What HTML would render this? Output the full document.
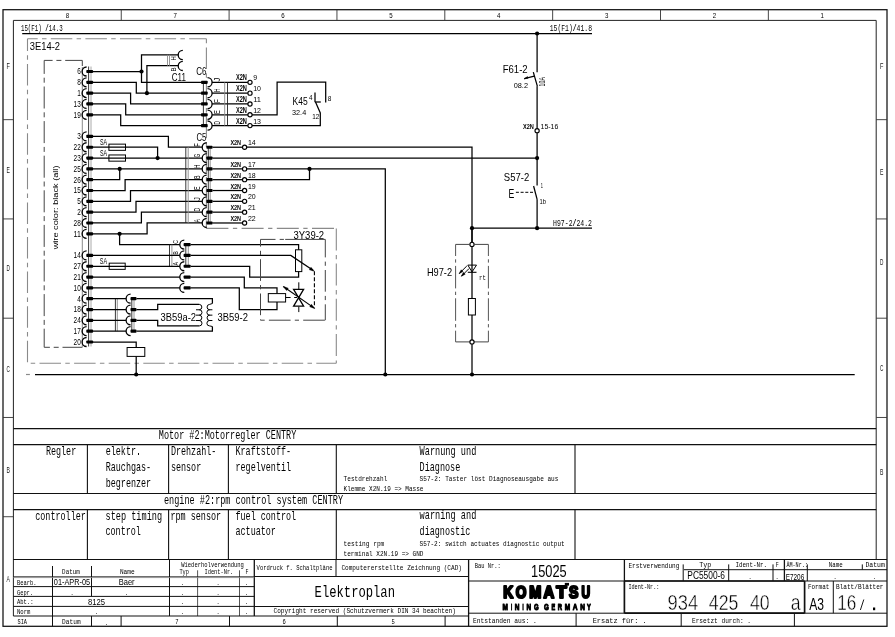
<!DOCTYPE html>
<html><head><meta charset="utf-8"><title>Elektroplan</title>
<style>
html,body{margin:0;padding:0;background:#fff;overflow:hidden}
svg{display:block;will-change:transform}
</style></head>
<body>
<svg width="895" height="637" viewBox="0 0 895 637">
<rect x="0" y="0" width="895" height="637" fill="#fff"/>
<rect x="3" y="9.7" width="884" height="616.6" fill="none" stroke="#111" stroke-width="1.25"/>
<line x1="13.4" y1="20.4" x2="876.2" y2="20.4" stroke="#222" stroke-width="1"/>
<line x1="13.4" y1="20.4" x2="13.4" y2="616" stroke="#222" stroke-width="1"/>
<line x1="876.2" y1="20.4" x2="876.2" y2="559.5" stroke="#222" stroke-width="1"/>
<line x1="121.25" y1="9.7" x2="121.25" y2="20.4" stroke="#333" stroke-width="0.9"/>
<line x1="229.1" y1="9.7" x2="229.1" y2="20.4" stroke="#333" stroke-width="0.9"/>
<line x1="336.95" y1="9.7" x2="336.95" y2="20.4" stroke="#333" stroke-width="0.9"/>
<line x1="444.8" y1="9.7" x2="444.8" y2="20.4" stroke="#333" stroke-width="0.9"/>
<line x1="552.65" y1="9.7" x2="552.65" y2="20.4" stroke="#333" stroke-width="0.9"/>
<line x1="660.5" y1="9.7" x2="660.5" y2="20.4" stroke="#333" stroke-width="0.9"/>
<line x1="768.35" y1="9.7" x2="768.35" y2="20.4" stroke="#333" stroke-width="0.9"/>
<text x="67.33" y="18.3" font-size="7.2" fill="#000" textLength="3.4" lengthAdjust="spacingAndGlyphs" text-anchor="middle" style="font-family:'Liberation Sans'">8</text>
<text x="175.18" y="18.3" font-size="7.2" fill="#000" textLength="3.4" lengthAdjust="spacingAndGlyphs" text-anchor="middle" style="font-family:'Liberation Sans'">7</text>
<text x="283.02" y="18.3" font-size="7.2" fill="#000" textLength="3.4" lengthAdjust="spacingAndGlyphs" text-anchor="middle" style="font-family:'Liberation Sans'">6</text>
<text x="390.88" y="18.3" font-size="7.2" fill="#000" textLength="3.4" lengthAdjust="spacingAndGlyphs" text-anchor="middle" style="font-family:'Liberation Sans'">5</text>
<text x="498.73" y="18.3" font-size="7.2" fill="#000" textLength="3.4" lengthAdjust="spacingAndGlyphs" text-anchor="middle" style="font-family:'Liberation Sans'">4</text>
<text x="606.58" y="18.3" font-size="7.2" fill="#000" textLength="3.4" lengthAdjust="spacingAndGlyphs" text-anchor="middle" style="font-family:'Liberation Sans'">3</text>
<text x="714.43" y="18.3" font-size="7.2" fill="#000" textLength="3.4" lengthAdjust="spacingAndGlyphs" text-anchor="middle" style="font-family:'Liberation Sans'">2</text>
<text x="822.28" y="18.3" font-size="7.2" fill="#000" textLength="3.4" lengthAdjust="spacingAndGlyphs" text-anchor="middle" style="font-family:'Liberation Sans'">1</text>
<line x1="3" y1="119.67" x2="13.4" y2="119.67" stroke="#333" stroke-width="0.9"/>
<line x1="876.2" y1="119.67" x2="887" y2="119.67" stroke="#333" stroke-width="0.9"/>
<line x1="3" y1="218.93" x2="13.4" y2="218.93" stroke="#333" stroke-width="0.9"/>
<line x1="876.2" y1="218.93" x2="887" y2="218.93" stroke="#333" stroke-width="0.9"/>
<line x1="3" y1="318.2" x2="13.4" y2="318.2" stroke="#333" stroke-width="0.9"/>
<line x1="876.2" y1="318.2" x2="887" y2="318.2" stroke="#333" stroke-width="0.9"/>
<line x1="3" y1="417.47" x2="13.4" y2="417.47" stroke="#333" stroke-width="0.9"/>
<line x1="876.2" y1="417.47" x2="887" y2="417.47" stroke="#333" stroke-width="0.9"/>
<line x1="3" y1="516.73" x2="13.4" y2="516.73" stroke="#333" stroke-width="0.9"/>
<text x="8.3" y="69.1" font-size="8.2" fill="#222" textLength="3.4" lengthAdjust="spacingAndGlyphs" text-anchor="middle" style="font-family:'Liberation Sans'">F</text>
<text x="8.3" y="172.8" font-size="8.2" fill="#222" textLength="3.4" lengthAdjust="spacingAndGlyphs" text-anchor="middle" style="font-family:'Liberation Sans'">E</text>
<text x="8.3" y="271.2" font-size="8.2" fill="#222" textLength="3.4" lengthAdjust="spacingAndGlyphs" text-anchor="middle" style="font-family:'Liberation Sans'">D</text>
<text x="8.3" y="372.3" font-size="8.2" fill="#222" textLength="3.4" lengthAdjust="spacingAndGlyphs" text-anchor="middle" style="font-family:'Liberation Sans'">C</text>
<text x="8.3" y="473.3" font-size="8.2" fill="#222" textLength="3.4" lengthAdjust="spacingAndGlyphs" text-anchor="middle" style="font-family:'Liberation Sans'">B</text>
<text x="8.3" y="582.2" font-size="8.2" fill="#222" textLength="3.4" lengthAdjust="spacingAndGlyphs" text-anchor="middle" style="font-family:'Liberation Sans'">A</text>
<text x="881.6" y="68.7" font-size="8.2" fill="#222" textLength="3.4" lengthAdjust="spacingAndGlyphs" text-anchor="middle" style="font-family:'Liberation Sans'">F</text>
<text x="881.6" y="175.3" font-size="8.2" fill="#222" textLength="3.4" lengthAdjust="spacingAndGlyphs" text-anchor="middle" style="font-family:'Liberation Sans'">E</text>
<text x="881.6" y="264.9" font-size="8.2" fill="#222" textLength="3.4" lengthAdjust="spacingAndGlyphs" text-anchor="middle" style="font-family:'Liberation Sans'">D</text>
<text x="881.6" y="370.6" font-size="8.2" fill="#222" textLength="3.4" lengthAdjust="spacingAndGlyphs" text-anchor="middle" style="font-family:'Liberation Sans'">C</text>
<text x="881.6" y="474.7" font-size="8.2" fill="#222" textLength="3.4" lengthAdjust="spacingAndGlyphs" text-anchor="middle" style="font-family:'Liberation Sans'">B</text>
<text x="20.9" y="30.6" font-size="8.2" fill="#000" textLength="41.8" lengthAdjust="spacingAndGlyphs" style="font-family:'Liberation Mono'">15(F1) <tspan font-weight="bold">/</tspan>14.3</text>
<text x="549.7" y="30.6" font-size="8.2" fill="#000" textLength="42.3" lengthAdjust="spacingAndGlyphs" style="font-family:'Liberation Mono'">15(F1)<tspan font-weight="bold">/</tspan>41.8</text>
<text x="553.1" y="225.9" font-size="8.2" fill="#000" textLength="38.9" lengthAdjust="spacingAndGlyphs" style="font-family:'Liberation Mono'">H97-2<tspan font-weight="bold">/</tspan>24.2</text>
<line x1="22.2" y1="33.5" x2="592" y2="33.5" stroke="#000" stroke-width="1.25"/>
<circle cx="537.1" cy="33.5" r="2.1" fill="#000"/>
<line x1="27.5" y1="38.7" x2="206.4" y2="38.7" stroke="#8a8a8a" stroke-width="1.1" stroke-dasharray="21.5 4.3 4.5 4.3" stroke-dashoffset="11.3"/>
<line x1="27.5" y1="38.7" x2="27.5" y2="363.3" stroke="#8a8a8a" stroke-width="1.1" stroke-dasharray="21.5 4.3 4.5 4.3" stroke-dashoffset="9.3"/>
<line x1="27.5" y1="363.3" x2="336.3" y2="363.3" stroke="#8a8a8a" stroke-width="1.1" stroke-dasharray="21.5 4.3 4.5 4.3" stroke-dashoffset="22.6"/>
<line x1="206.4" y1="38.7" x2="206.4" y2="228.5" stroke="#8a8a8a" stroke-width="1.1" stroke-dasharray="21.5 4.3 4.5 4.3" stroke-dashoffset="25.8"/>
<line x1="206.4" y1="228.4" x2="336.3" y2="228.4" stroke="#8a8a8a" stroke-width="1.1" stroke-dasharray="22 4.5 4.3 4.4" stroke-dashoffset="0"/>
<line x1="336.3" y1="228.4" x2="336.3" y2="363.3" stroke="#8a8a8a" stroke-width="1.1" stroke-dasharray="22 4.5 4.3 4.4" stroke-dashoffset="0"/>
<text x="29.8" y="49.6" font-size="11.4" fill="#000" textLength="30.2" lengthAdjust="spacingAndGlyphs" style="font-family:'Liberation Sans'">3E14-2</text>
<line x1="44.2" y1="60.4" x2="82.3" y2="60.4" stroke="#444" stroke-width="1" stroke-dasharray="22 3.8 5 3.8" stroke-dashoffset="13.6"/>
<line x1="44.2" y1="60.4" x2="44.2" y2="347.3" stroke="#444" stroke-width="1" stroke-dasharray="22 3.8 5 3.8" stroke-dashoffset="8.5"/>
<line x1="44.2" y1="347.3" x2="82.3" y2="347.3" stroke="#444" stroke-width="1" stroke-dasharray="22 3.8 5 3.8" stroke-dashoffset="16.3"/>
<line x1="82.3" y1="60.4" x2="82.3" y2="66" stroke="#444" stroke-width="1"/>
<line x1="82.3" y1="67" x2="82.3" y2="347.4" stroke="#8a8a8a" stroke-width="1"/>
<text x="58.2" y="249.3" font-size="7.4" fill="#000" textLength="83.8" lengthAdjust="spacingAndGlyphs" style="font-family:'Liberation Sans'" transform="rotate(-90 58.2 249.3)">wire color: black (all)</text>
<line x1="88.6" y1="66.5" x2="88.6" y2="346.5" stroke="#222" stroke-width="0.9"/>
<line x1="91" y1="66.5" x2="91" y2="346.5" stroke="#aaa" stroke-width="1"/>
<path d="M86.6 67 A4.5 4.5 0 0 0 86.6 76" fill="none" stroke="#000" stroke-width="1.3"/>
<rect x="86.3" y="69.9" width="6.8" height="3.2" fill="#000" rx="0.8"/>
<text x="80.8" y="74.35" font-size="8.2" fill="#000" textLength="3.6" lengthAdjust="spacingAndGlyphs" text-anchor="end" style="font-family:'Liberation Sans'">6</text>
<path d="M86.6 77.82 A4.5 4.5 0 0 0 86.6 86.82" fill="none" stroke="#000" stroke-width="1.3"/>
<rect x="86.3" y="80.72" width="6.8" height="3.2" fill="#000" rx="0.8"/>
<text x="80.8" y="85.17" font-size="8.2" fill="#000" textLength="3.6" lengthAdjust="spacingAndGlyphs" text-anchor="end" style="font-family:'Liberation Sans'">8</text>
<path d="M86.6 88.64 A4.5 4.5 0 0 0 86.6 97.64" fill="none" stroke="#000" stroke-width="1.3"/>
<rect x="86.3" y="91.54" width="6.8" height="3.2" fill="#000" rx="0.8"/>
<text x="80.8" y="95.99" font-size="8.2" fill="#000" textLength="3.6" lengthAdjust="spacingAndGlyphs" text-anchor="end" style="font-family:'Liberation Sans'">1</text>
<path d="M86.6 99.46 A4.5 4.5 0 0 0 86.6 108.46" fill="none" stroke="#000" stroke-width="1.3"/>
<rect x="86.3" y="102.36" width="6.8" height="3.2" fill="#000" rx="0.8"/>
<text x="80.8" y="106.81" font-size="8.2" fill="#000" textLength="7.2" lengthAdjust="spacingAndGlyphs" text-anchor="end" style="font-family:'Liberation Sans'">13</text>
<path d="M86.6 110.28 A4.5 4.5 0 0 0 86.6 119.28" fill="none" stroke="#000" stroke-width="1.3"/>
<rect x="86.3" y="113.18" width="6.8" height="3.2" fill="#000" rx="0.8"/>
<text x="80.8" y="117.63" font-size="8.2" fill="#000" textLength="7.2" lengthAdjust="spacingAndGlyphs" text-anchor="end" style="font-family:'Liberation Sans'">19</text>
<path d="M86.6 131.92 A4.5 4.5 0 0 0 86.6 140.92" fill="none" stroke="#000" stroke-width="1.3"/>
<rect x="86.3" y="134.82" width="6.8" height="3.2" fill="#000" rx="0.8"/>
<text x="80.8" y="139.27" font-size="8.2" fill="#000" textLength="3.6" lengthAdjust="spacingAndGlyphs" text-anchor="end" style="font-family:'Liberation Sans'">3</text>
<path d="M86.6 142.74 A4.5 4.5 0 0 0 86.6 151.74" fill="none" stroke="#000" stroke-width="1.3"/>
<rect x="86.3" y="145.64" width="6.8" height="3.2" fill="#000" rx="0.8"/>
<text x="80.8" y="150.09" font-size="8.2" fill="#000" textLength="7.2" lengthAdjust="spacingAndGlyphs" text-anchor="end" style="font-family:'Liberation Sans'">22</text>
<path d="M86.6 153.56 A4.5 4.5 0 0 0 86.6 162.56" fill="none" stroke="#000" stroke-width="1.3"/>
<rect x="86.3" y="156.46" width="6.8" height="3.2" fill="#000" rx="0.8"/>
<text x="80.8" y="160.91" font-size="8.2" fill="#000" textLength="7.2" lengthAdjust="spacingAndGlyphs" text-anchor="end" style="font-family:'Liberation Sans'">23</text>
<path d="M86.6 164.38 A4.5 4.5 0 0 0 86.6 173.38" fill="none" stroke="#000" stroke-width="1.3"/>
<rect x="86.3" y="167.28" width="6.8" height="3.2" fill="#000" rx="0.8"/>
<text x="80.8" y="171.73" font-size="8.2" fill="#000" textLength="7.2" lengthAdjust="spacingAndGlyphs" text-anchor="end" style="font-family:'Liberation Sans'">25</text>
<path d="M86.6 175.2 A4.5 4.5 0 0 0 86.6 184.2" fill="none" stroke="#000" stroke-width="1.3"/>
<rect x="86.3" y="178.1" width="6.8" height="3.2" fill="#000" rx="0.8"/>
<text x="80.8" y="182.55" font-size="8.2" fill="#000" textLength="7.2" lengthAdjust="spacingAndGlyphs" text-anchor="end" style="font-family:'Liberation Sans'">26</text>
<path d="M86.6 186.02 A4.5 4.5 0 0 0 86.6 195.02" fill="none" stroke="#000" stroke-width="1.3"/>
<rect x="86.3" y="188.92" width="6.8" height="3.2" fill="#000" rx="0.8"/>
<text x="80.8" y="193.37" font-size="8.2" fill="#000" textLength="7.2" lengthAdjust="spacingAndGlyphs" text-anchor="end" style="font-family:'Liberation Sans'">15</text>
<path d="M86.6 196.84 A4.5 4.5 0 0 0 86.6 205.84" fill="none" stroke="#000" stroke-width="1.3"/>
<rect x="86.3" y="199.74" width="6.8" height="3.2" fill="#000" rx="0.8"/>
<text x="80.8" y="204.19" font-size="8.2" fill="#000" textLength="3.6" lengthAdjust="spacingAndGlyphs" text-anchor="end" style="font-family:'Liberation Sans'">5</text>
<path d="M86.6 207.66 A4.5 4.5 0 0 0 86.6 216.66" fill="none" stroke="#000" stroke-width="1.3"/>
<rect x="86.3" y="210.56" width="6.8" height="3.2" fill="#000" rx="0.8"/>
<text x="80.8" y="215.01" font-size="8.2" fill="#000" textLength="3.6" lengthAdjust="spacingAndGlyphs" text-anchor="end" style="font-family:'Liberation Sans'">2</text>
<path d="M86.6 218.48 A4.5 4.5 0 0 0 86.6 227.48" fill="none" stroke="#000" stroke-width="1.3"/>
<rect x="86.3" y="221.38" width="6.8" height="3.2" fill="#000" rx="0.8"/>
<text x="80.8" y="225.83" font-size="8.2" fill="#000" textLength="7.2" lengthAdjust="spacingAndGlyphs" text-anchor="end" style="font-family:'Liberation Sans'">28</text>
<path d="M86.6 229.3 A4.5 4.5 0 0 0 86.6 238.3" fill="none" stroke="#000" stroke-width="1.3"/>
<rect x="86.3" y="232.2" width="6.8" height="3.2" fill="#000" rx="0.8"/>
<text x="80.8" y="236.65" font-size="8.2" fill="#000" textLength="7.2" lengthAdjust="spacingAndGlyphs" text-anchor="end" style="font-family:'Liberation Sans'">11</text>
<path d="M86.6 250.94 A4.5 4.5 0 0 0 86.6 259.94" fill="none" stroke="#000" stroke-width="1.3"/>
<rect x="86.3" y="253.84" width="6.8" height="3.2" fill="#000" rx="0.8"/>
<text x="80.8" y="258.29" font-size="8.2" fill="#000" textLength="7.2" lengthAdjust="spacingAndGlyphs" text-anchor="end" style="font-family:'Liberation Sans'">14</text>
<path d="M86.6 261.76 A4.5 4.5 0 0 0 86.6 270.76" fill="none" stroke="#000" stroke-width="1.3"/>
<rect x="86.3" y="264.66" width="6.8" height="3.2" fill="#000" rx="0.8"/>
<text x="80.8" y="269.11" font-size="8.2" fill="#000" textLength="7.2" lengthAdjust="spacingAndGlyphs" text-anchor="end" style="font-family:'Liberation Sans'">27</text>
<path d="M86.6 272.58 A4.5 4.5 0 0 0 86.6 281.58" fill="none" stroke="#000" stroke-width="1.3"/>
<rect x="86.3" y="275.48" width="6.8" height="3.2" fill="#000" rx="0.8"/>
<text x="80.8" y="279.93" font-size="8.2" fill="#000" textLength="7.2" lengthAdjust="spacingAndGlyphs" text-anchor="end" style="font-family:'Liberation Sans'">21</text>
<path d="M86.6 283.4 A4.5 4.5 0 0 0 86.6 292.4" fill="none" stroke="#000" stroke-width="1.3"/>
<rect x="86.3" y="286.3" width="6.8" height="3.2" fill="#000" rx="0.8"/>
<text x="80.8" y="290.75" font-size="8.2" fill="#000" textLength="7.2" lengthAdjust="spacingAndGlyphs" text-anchor="end" style="font-family:'Liberation Sans'">10</text>
<path d="M86.6 294.22 A4.5 4.5 0 0 0 86.6 303.22" fill="none" stroke="#000" stroke-width="1.3"/>
<rect x="86.3" y="297.12" width="6.8" height="3.2" fill="#000" rx="0.8"/>
<text x="80.8" y="301.57" font-size="8.2" fill="#000" textLength="3.6" lengthAdjust="spacingAndGlyphs" text-anchor="end" style="font-family:'Liberation Sans'">4</text>
<path d="M86.6 305.04 A4.5 4.5 0 0 0 86.6 314.04" fill="none" stroke="#000" stroke-width="1.3"/>
<rect x="86.3" y="307.94" width="6.8" height="3.2" fill="#000" rx="0.8"/>
<text x="80.8" y="312.39" font-size="8.2" fill="#000" textLength="7.2" lengthAdjust="spacingAndGlyphs" text-anchor="end" style="font-family:'Liberation Sans'">18</text>
<path d="M86.6 315.86 A4.5 4.5 0 0 0 86.6 324.86" fill="none" stroke="#000" stroke-width="1.3"/>
<rect x="86.3" y="318.76" width="6.8" height="3.2" fill="#000" rx="0.8"/>
<text x="80.8" y="323.21" font-size="8.2" fill="#000" textLength="7.2" lengthAdjust="spacingAndGlyphs" text-anchor="end" style="font-family:'Liberation Sans'">24</text>
<path d="M86.6 326.68 A4.5 4.5 0 0 0 86.6 335.68" fill="none" stroke="#000" stroke-width="1.3"/>
<rect x="86.3" y="329.58" width="6.8" height="3.2" fill="#000" rx="0.8"/>
<text x="80.8" y="334.03" font-size="8.2" fill="#000" textLength="7.2" lengthAdjust="spacingAndGlyphs" text-anchor="end" style="font-family:'Liberation Sans'">17</text>
<path d="M86.6 337.5 A4.5 4.5 0 0 0 86.6 346.5" fill="none" stroke="#000" stroke-width="1.3"/>
<rect x="86.3" y="340.4" width="6.8" height="3.2" fill="#000" rx="0.8"/>
<text x="80.8" y="344.85" font-size="8.2" fill="#000" textLength="7.2" lengthAdjust="spacingAndGlyphs" text-anchor="end" style="font-family:'Liberation Sans'">20</text>
<line x1="93" y1="71.5" x2="141.5" y2="71.5" stroke="#000" stroke-width="1.25"/>
<polyline points="178,54.8 141.5,54.8 141.5,82.32 201,82.32" fill="none" stroke="#000" stroke-width="1.25" stroke-linejoin="miter"/>
<circle cx="141.5" cy="71.5" r="2.1" fill="#000"/>
<polyline points="93,82.32 136.3,82.32 136.3,93.14 201,93.14" fill="none" stroke="#000" stroke-width="1.25" stroke-linejoin="miter"/>
<polyline points="146.9,93.14 146.9,65.7 178,65.7" fill="none" stroke="#000" stroke-width="1.25" stroke-linejoin="miter"/>
<circle cx="146.9" cy="93.14" r="2.1" fill="#000"/>
<polyline points="93,93.14 130.6,93.14 130.6,103.96 201,103.96" fill="none" stroke="#000" stroke-width="1.25" stroke-linejoin="miter"/>
<polyline points="93,103.96 125.7,103.96 125.7,114.78 201,114.78" fill="none" stroke="#000" stroke-width="1.25" stroke-linejoin="miter"/>
<polyline points="93,114.78 120.7,114.78 120.7,125.6 201,125.6" fill="none" stroke="#000" stroke-width="1.25" stroke-linejoin="miter"/>
<line x1="167.5" y1="54.8" x2="167.5" y2="65.7" stroke="#8a8a8a" stroke-width="0.9"/>
<line x1="169.5" y1="54.8" x2="169.5" y2="65.7" stroke="#8a8a8a" stroke-width="0.9"/>
<path d="M182.8 50.4 A4.6 4.6 0 0 0 182.8 59.6" fill="none" stroke="#000" stroke-width="1.3"/>
<path d="M182.8 61.3 A4.6 4.6 0 0 0 182.8 70.5" fill="none" stroke="#000" stroke-width="1.3"/>
<text x="176" y="58.3" font-size="6.6" fill="#000" textLength="4.2" lengthAdjust="spacingAndGlyphs" text-anchor="middle" style="font-family:'Liberation Sans'" transform="rotate(-90 176 58.3)">H</text>
<text x="176" y="69.3" font-size="6.6" fill="#000" textLength="4.2" lengthAdjust="spacingAndGlyphs" text-anchor="middle" style="font-family:'Liberation Sans'" transform="rotate(-90 176 69.3)">B</text>
<text x="171.8" y="81" font-size="11.4" fill="#000" textLength="14.1" lengthAdjust="spacingAndGlyphs" style="font-family:'Liberation Sans'">C11</text>
<text x="196.2" y="75.3" font-size="11.4" fill="#000" textLength="10.2" lengthAdjust="spacingAndGlyphs" style="font-family:'Liberation Sans'">C6</text>
<line x1="203.4" y1="81.32" x2="203.4" y2="126.6" stroke="#222" stroke-width="0.9"/>
<rect x="201" y="80.72" width="6.7" height="3.2" fill="#000" rx="0.8"/>
<path d="M207.5 77.72 A4.6 4.6 0 0 1 207.5 86.92" fill="none" stroke="#000" stroke-width="1.3"/>
<text x="219.8" y="79.52" font-size="8.8" fill="#000" textLength="3.8" lengthAdjust="spacingAndGlyphs" text-anchor="middle" style="font-family:'Liberation Sans'" transform="rotate(-90 219.8 79.52)">J</text>
<line x1="212" y1="82.32" x2="248" y2="82.32" stroke="#000" stroke-width="1.25"/>
<rect x="201" y="91.54" width="6.7" height="3.2" fill="#000" rx="0.8"/>
<path d="M207.5 88.54 A4.6 4.6 0 0 1 207.5 97.74" fill="none" stroke="#000" stroke-width="1.3"/>
<text x="219.8" y="90.34" font-size="8.8" fill="#000" textLength="3.8" lengthAdjust="spacingAndGlyphs" text-anchor="middle" style="font-family:'Liberation Sans'" transform="rotate(-90 219.8 90.34)">H</text>
<line x1="212" y1="93.14" x2="248" y2="93.14" stroke="#000" stroke-width="1.25"/>
<rect x="201" y="102.36" width="6.7" height="3.2" fill="#000" rx="0.8"/>
<path d="M207.5 99.36 A4.6 4.6 0 0 1 207.5 108.56" fill="none" stroke="#000" stroke-width="1.3"/>
<text x="219.8" y="101.16" font-size="8.8" fill="#000" textLength="3.8" lengthAdjust="spacingAndGlyphs" text-anchor="middle" style="font-family:'Liberation Sans'" transform="rotate(-90 219.8 101.16)">F</text>
<line x1="212" y1="103.96" x2="248" y2="103.96" stroke="#000" stroke-width="1.25"/>
<rect x="201" y="113.18" width="6.7" height="3.2" fill="#000" rx="0.8"/>
<path d="M207.5 110.18 A4.6 4.6 0 0 1 207.5 119.38" fill="none" stroke="#000" stroke-width="1.3"/>
<text x="219.8" y="111.98" font-size="8.8" fill="#000" textLength="3.8" lengthAdjust="spacingAndGlyphs" text-anchor="middle" style="font-family:'Liberation Sans'" transform="rotate(-90 219.8 111.98)">E</text>
<line x1="212" y1="114.78" x2="248" y2="114.78" stroke="#000" stroke-width="1.25"/>
<rect x="201" y="124" width="6.7" height="3.2" fill="#000" rx="0.8"/>
<path d="M207.5 121 A4.6 4.6 0 0 1 207.5 130.2" fill="none" stroke="#000" stroke-width="1.3"/>
<text x="219.8" y="122.8" font-size="8.8" fill="#000" textLength="3.8" lengthAdjust="spacingAndGlyphs" text-anchor="middle" style="font-family:'Liberation Sans'" transform="rotate(-90 219.8 122.8)">D</text>
<line x1="212" y1="125.6" x2="248" y2="125.6" stroke="#000" stroke-width="1.25"/>
<line x1="224.7" y1="82.32" x2="224.7" y2="125.6" stroke="#8a8a8a" stroke-width="0.9"/>
<line x1="227.5" y1="82.32" x2="227.5" y2="125.6" stroke="#222" stroke-width="0.9"/>
<text x="235.9" y="80.42" font-size="8.2" fill="#000" textLength="11" lengthAdjust="spacingAndGlyphs" font-weight="bold" style="font-family:'Liberation Sans'">X2N</text>
<circle cx="250" cy="82.32" r="2.1" fill="#fff" stroke="#000" stroke-width="1.15"/>
<text x="253.2" y="80.42" font-size="7.6" fill="#000" textLength="3.9" lengthAdjust="spacingAndGlyphs" style="font-family:'Liberation Sans'">9</text>
<text x="235.9" y="91.24" font-size="8.2" fill="#000" textLength="11" lengthAdjust="spacingAndGlyphs" font-weight="bold" style="font-family:'Liberation Sans'">X2N</text>
<circle cx="250" cy="93.14" r="2.1" fill="#fff" stroke="#000" stroke-width="1.15"/>
<text x="253.2" y="91.24" font-size="7.6" fill="#000" textLength="7.8" lengthAdjust="spacingAndGlyphs" style="font-family:'Liberation Sans'">10</text>
<text x="235.9" y="102.06" font-size="8.2" fill="#000" textLength="11" lengthAdjust="spacingAndGlyphs" font-weight="bold" style="font-family:'Liberation Sans'">X2N</text>
<circle cx="250" cy="103.96" r="2.1" fill="#fff" stroke="#000" stroke-width="1.15"/>
<text x="253.2" y="102.06" font-size="7.6" fill="#000" textLength="7.8" lengthAdjust="spacingAndGlyphs" style="font-family:'Liberation Sans'">11</text>
<text x="235.9" y="112.88" font-size="8.2" fill="#000" textLength="11" lengthAdjust="spacingAndGlyphs" font-weight="bold" style="font-family:'Liberation Sans'">X2N</text>
<circle cx="250" cy="114.78" r="2.1" fill="#fff" stroke="#000" stroke-width="1.15"/>
<text x="253.2" y="112.88" font-size="7.6" fill="#000" textLength="7.8" lengthAdjust="spacingAndGlyphs" style="font-family:'Liberation Sans'">12</text>
<text x="235.9" y="123.7" font-size="8.2" fill="#000" textLength="11" lengthAdjust="spacingAndGlyphs" font-weight="bold" style="font-family:'Liberation Sans'">X2N</text>
<circle cx="250" cy="125.6" r="2.1" fill="#fff" stroke="#000" stroke-width="1.15"/>
<text x="253.2" y="123.7" font-size="7.6" fill="#000" textLength="7.8" lengthAdjust="spacingAndGlyphs" style="font-family:'Liberation Sans'">13</text>
<polyline points="252,114.78 277.1,114.78 277.1,82.1 325.7,82.1 325.7,102.5" fill="none" stroke="#000" stroke-width="1.25" stroke-linejoin="miter"/>
<polyline points="252,125.6 320.3,125.6 320.3,113 315.5,102" fill="none" stroke="#000" stroke-width="1.25" stroke-linejoin="miter"/>
<line x1="315" y1="92.6" x2="315" y2="102.3" stroke="#000" stroke-width="1.25"/>
<line x1="315" y1="102" x2="320.8" y2="102" stroke="#000" stroke-width="1.25"/>
<text x="292.5" y="105" font-size="11.2" fill="#000" textLength="15.1" lengthAdjust="spacingAndGlyphs" style="font-family:'Liberation Sans'">K45</text>
<text x="309" y="100.3" font-size="8" fill="#000" textLength="3.5" lengthAdjust="spacingAndGlyphs" style="font-family:'Liberation Sans'">4</text>
<text x="327.8" y="100.6" font-size="8" fill="#000" textLength="3.6" lengthAdjust="spacingAndGlyphs" style="font-family:'Liberation Sans'">8</text>
<text x="292" y="114.8" font-size="7.8" fill="#000" textLength="14.2" lengthAdjust="spacingAndGlyphs" style="font-family:'Liberation Sans'">32.4</text>
<text x="312.3" y="118.5" font-size="7.8" fill="#000" textLength="7.1" lengthAdjust="spacingAndGlyphs" style="font-family:'Liberation Sans'">12</text>
<polyline points="93,136.42 168.4,136.42 168.4,147.24 202.2,147.24" fill="none" stroke="#000" stroke-width="1.25" stroke-linejoin="miter"/>
<rect x="108.9" y="144.14" width="16.6" height="6.2" fill="none" stroke="#000" stroke-width="1"/>
<text x="99.9" y="145.34" font-size="8.6" fill="#000" textLength="7.1" lengthAdjust="spacingAndGlyphs" style="font-family:'Liberation Sans'">SA</text>
<rect x="108.9" y="154.96" width="16.6" height="6.2" fill="none" stroke="#000" stroke-width="1"/>
<text x="99.9" y="156.16" font-size="8.6" fill="#000" textLength="7.1" lengthAdjust="spacingAndGlyphs" style="font-family:'Liberation Sans'">SA</text>
<polyline points="93,147.24 157.6,147.24 157.6,158.06" fill="none" stroke="#000" stroke-width="1.25" stroke-linejoin="miter"/>
<line x1="93" y1="158.06" x2="202.2" y2="158.06" stroke="#000" stroke-width="1.25"/>
<circle cx="157.6" cy="158.06" r="2.1" fill="#000"/>
<line x1="93" y1="168.88" x2="202.2" y2="168.88" stroke="#000" stroke-width="1.25"/>
<polyline points="93,179.7 119.7,179.7 119.7,168.88" fill="none" stroke="#000" stroke-width="1.25" stroke-linejoin="miter"/>
<circle cx="119.7" cy="168.88" r="2.1" fill="#000"/>
<polyline points="93,190.52 125.1,190.52 125.1,179.7 202.2,179.7" fill="none" stroke="#000" stroke-width="1.25" stroke-linejoin="miter"/>
<polyline points="93,201.34 130.5,201.34 130.5,190.52 202.2,190.52" fill="none" stroke="#000" stroke-width="1.25" stroke-linejoin="miter"/>
<polyline points="93,212.16 136,212.16 136,201.34 202.2,201.34" fill="none" stroke="#000" stroke-width="1.25" stroke-linejoin="miter"/>
<polyline points="93,222.98 141.4,222.98 141.4,212.16 202.2,212.16" fill="none" stroke="#000" stroke-width="1.25" stroke-linejoin="miter"/>
<polyline points="93,233.8 147.1,233.8 147.1,222.98 202.2,222.98" fill="none" stroke="#000" stroke-width="1.25" stroke-linejoin="miter"/>
<circle cx="119.6" cy="233.8" r="2.1" fill="#000"/>
<polyline points="119.6,233.8 119.6,244.62 179.8,244.62" fill="none" stroke="#000" stroke-width="1.25" stroke-linejoin="miter"/>
<text x="196.5" y="140.6" font-size="11.4" fill="#000" textLength="9.9" lengthAdjust="spacingAndGlyphs" style="font-family:'Liberation Sans'">C5</text>
<line x1="185.8" y1="147.24" x2="185.8" y2="222.98" stroke="#222" stroke-width="0.9"/>
<line x1="188.2" y1="147.24" x2="188.2" y2="222.98" stroke="#8a8a8a" stroke-width="0.9"/>
<line x1="208.3" y1="146.24" x2="208.3" y2="223.98" stroke="#222" stroke-width="0.9"/>
<line x1="210.2" y1="146.24" x2="210.2" y2="223.98" stroke="#8a8a8a" stroke-width="0.9"/>
<path d="M206.7 142.74 A4.5 4.5 0 0 0 206.7 151.74" fill="none" stroke="#000" stroke-width="1.3"/>
<rect x="206.4" y="145.64" width="6.2" height="3.2" fill="#000" rx="0.8"/>
<text x="199.6" y="144.84" font-size="8.6" fill="#000" textLength="3.6" lengthAdjust="spacingAndGlyphs" text-anchor="middle" style="font-family:'Liberation Sans'" transform="rotate(-90 199.6 144.84)">F</text>
<text x="230.4" y="145.24" font-size="7.9" fill="#000" textLength="10.7" lengthAdjust="spacingAndGlyphs" font-weight="bold" style="font-family:'Liberation Sans'">X2N</text>
<circle cx="244.6" cy="147.24" r="2.1" fill="#fff" stroke="#000" stroke-width="1.15"/>
<text x="247.9" y="145.34" font-size="7.6" fill="#000" textLength="7.8" lengthAdjust="spacingAndGlyphs" style="font-family:'Liberation Sans'">14</text>
<path d="M206.7 153.56 A4.5 4.5 0 0 0 206.7 162.56" fill="none" stroke="#000" stroke-width="1.3"/>
<rect x="206.4" y="156.46" width="6.2" height="3.2" fill="#000" rx="0.8"/>
<text x="199.6" y="155.66" font-size="8.6" fill="#000" textLength="3.6" lengthAdjust="spacingAndGlyphs" text-anchor="middle" style="font-family:'Liberation Sans'" transform="rotate(-90 199.6 155.66)">G</text>
<path d="M206.7 164.38 A4.5 4.5 0 0 0 206.7 173.38" fill="none" stroke="#000" stroke-width="1.3"/>
<rect x="206.4" y="167.28" width="6.2" height="3.2" fill="#000" rx="0.8"/>
<text x="199.6" y="166.48" font-size="8.6" fill="#000" textLength="3.6" lengthAdjust="spacingAndGlyphs" text-anchor="middle" style="font-family:'Liberation Sans'" transform="rotate(-90 199.6 166.48)">H</text>
<text x="230.4" y="166.88" font-size="7.9" fill="#000" textLength="10.7" lengthAdjust="spacingAndGlyphs" font-weight="bold" style="font-family:'Liberation Sans'">X2N</text>
<circle cx="244.6" cy="168.88" r="2.1" fill="#fff" stroke="#000" stroke-width="1.15"/>
<text x="247.9" y="166.98" font-size="7.6" fill="#000" textLength="7.8" lengthAdjust="spacingAndGlyphs" style="font-family:'Liberation Sans'">17</text>
<path d="M206.7 175.2 A4.5 4.5 0 0 0 206.7 184.2" fill="none" stroke="#000" stroke-width="1.3"/>
<rect x="206.4" y="178.1" width="6.2" height="3.2" fill="#000" rx="0.8"/>
<text x="199.6" y="177.3" font-size="8.6" fill="#000" textLength="3.6" lengthAdjust="spacingAndGlyphs" text-anchor="middle" style="font-family:'Liberation Sans'" transform="rotate(-90 199.6 177.3)">B</text>
<text x="230.4" y="177.7" font-size="7.9" fill="#000" textLength="10.7" lengthAdjust="spacingAndGlyphs" font-weight="bold" style="font-family:'Liberation Sans'">X2N</text>
<circle cx="244.6" cy="179.7" r="2.1" fill="#fff" stroke="#000" stroke-width="1.15"/>
<text x="247.9" y="177.8" font-size="7.6" fill="#000" textLength="7.8" lengthAdjust="spacingAndGlyphs" style="font-family:'Liberation Sans'">18</text>
<path d="M206.7 186.02 A4.5 4.5 0 0 0 206.7 195.02" fill="none" stroke="#000" stroke-width="1.3"/>
<rect x="206.4" y="188.92" width="6.2" height="3.2" fill="#000" rx="0.8"/>
<text x="199.6" y="188.12" font-size="8.6" fill="#000" textLength="3.6" lengthAdjust="spacingAndGlyphs" text-anchor="middle" style="font-family:'Liberation Sans'" transform="rotate(-90 199.6 188.12)">E</text>
<text x="230.4" y="188.52" font-size="7.9" fill="#000" textLength="10.7" lengthAdjust="spacingAndGlyphs" font-weight="bold" style="font-family:'Liberation Sans'">X2N</text>
<circle cx="244.6" cy="190.52" r="2.1" fill="#fff" stroke="#000" stroke-width="1.15"/>
<text x="247.9" y="188.62" font-size="7.6" fill="#000" textLength="7.8" lengthAdjust="spacingAndGlyphs" style="font-family:'Liberation Sans'">19</text>
<line x1="212.6" y1="190.52" x2="242.6" y2="190.52" stroke="#000" stroke-width="1.25"/>
<path d="M206.7 196.84 A4.5 4.5 0 0 0 206.7 205.84" fill="none" stroke="#000" stroke-width="1.3"/>
<rect x="206.4" y="199.74" width="6.2" height="3.2" fill="#000" rx="0.8"/>
<text x="199.6" y="198.94" font-size="8.6" fill="#000" textLength="3.6" lengthAdjust="spacingAndGlyphs" text-anchor="middle" style="font-family:'Liberation Sans'" transform="rotate(-90 199.6 198.94)">J</text>
<text x="230.4" y="199.34" font-size="7.9" fill="#000" textLength="10.7" lengthAdjust="spacingAndGlyphs" font-weight="bold" style="font-family:'Liberation Sans'">X2N</text>
<circle cx="244.6" cy="201.34" r="2.1" fill="#fff" stroke="#000" stroke-width="1.15"/>
<text x="247.9" y="199.44" font-size="7.6" fill="#000" textLength="7.8" lengthAdjust="spacingAndGlyphs" style="font-family:'Liberation Sans'">20</text>
<line x1="212.6" y1="201.34" x2="242.6" y2="201.34" stroke="#000" stroke-width="1.25"/>
<path d="M206.7 207.66 A4.5 4.5 0 0 0 206.7 216.66" fill="none" stroke="#000" stroke-width="1.3"/>
<rect x="206.4" y="210.56" width="6.2" height="3.2" fill="#000" rx="0.8"/>
<text x="199.6" y="209.76" font-size="8.6" fill="#000" textLength="3.6" lengthAdjust="spacingAndGlyphs" text-anchor="middle" style="font-family:'Liberation Sans'" transform="rotate(-90 199.6 209.76)">D</text>
<text x="230.4" y="210.16" font-size="7.9" fill="#000" textLength="10.7" lengthAdjust="spacingAndGlyphs" font-weight="bold" style="font-family:'Liberation Sans'">X2N</text>
<circle cx="244.6" cy="212.16" r="2.1" fill="#fff" stroke="#000" stroke-width="1.15"/>
<text x="247.9" y="210.26" font-size="7.6" fill="#000" textLength="7.8" lengthAdjust="spacingAndGlyphs" style="font-family:'Liberation Sans'">21</text>
<line x1="212.6" y1="212.16" x2="242.6" y2="212.16" stroke="#000" stroke-width="1.25"/>
<path d="M206.7 218.48 A4.5 4.5 0 0 0 206.7 227.48" fill="none" stroke="#000" stroke-width="1.3"/>
<rect x="206.4" y="221.38" width="6.2" height="3.2" fill="#000" rx="0.8"/>
<text x="199.6" y="220.58" font-size="8.6" fill="#000" textLength="3.6" lengthAdjust="spacingAndGlyphs" text-anchor="middle" style="font-family:'Liberation Sans'" transform="rotate(-90 199.6 220.58)">A</text>
<text x="230.4" y="220.98" font-size="7.9" fill="#000" textLength="10.7" lengthAdjust="spacingAndGlyphs" font-weight="bold" style="font-family:'Liberation Sans'">X2N</text>
<circle cx="244.6" cy="222.98" r="2.1" fill="#fff" stroke="#000" stroke-width="1.15"/>
<text x="247.9" y="221.08" font-size="7.6" fill="#000" textLength="7.8" lengthAdjust="spacingAndGlyphs" style="font-family:'Liberation Sans'">22</text>
<line x1="212.6" y1="222.98" x2="242.6" y2="222.98" stroke="#000" stroke-width="1.25"/>
<line x1="212.6" y1="147.24" x2="242.6" y2="147.24" stroke="#000" stroke-width="1.25"/>
<polyline points="246.6,147.24 472,147.24 472,242.4" fill="none" stroke="#000" stroke-width="1.25" stroke-linejoin="miter"/>
<polyline points="212.6,158.06 537.1,158.06" fill="none" stroke="#000" stroke-width="1.25" stroke-linejoin="miter"/>
<line x1="212.6" y1="168.88" x2="242.6" y2="168.88" stroke="#000" stroke-width="1.25"/>
<polyline points="246.6,168.88 385.3,168.88 385.3,374.5" fill="none" stroke="#000" stroke-width="1.25" stroke-linejoin="miter"/>
<line x1="212.6" y1="179.7" x2="242.6" y2="179.7" stroke="#000" stroke-width="1.25"/>
<polyline points="246.6,179.7 309.5,179.7 309.5,168.88" fill="none" stroke="#000" stroke-width="1.25" stroke-linejoin="miter"/>
<circle cx="309.5" cy="168.88" r="2.1" fill="#000"/>
<line x1="169.5" y1="244.62" x2="169.5" y2="266.26" stroke="#222" stroke-width="0.9"/>
<line x1="171.9" y1="244.62" x2="171.9" y2="266.26" stroke="#8a8a8a" stroke-width="0.9"/>
<line x1="185.8" y1="243.62" x2="185.8" y2="267.26" stroke="#222" stroke-width="0.9"/>
<line x1="188.3" y1="243.62" x2="188.3" y2="267.26" stroke="#8a8a8a" stroke-width="0.9"/>
<path d="M184.3 240.12 A4.5 4.5 0 0 0 184.3 249.12" fill="none" stroke="#000" stroke-width="1.3"/>
<rect x="183.6" y="243.02" width="7.1" height="3.2" fill="#000" rx="0.8"/>
<text x="177.6" y="242.02" font-size="7.4" fill="#000" textLength="3.6" lengthAdjust="spacingAndGlyphs" text-anchor="middle" style="font-family:'Liberation Sans'" transform="rotate(-90 177.6 242.02)">C</text>
<path d="M184.3 250.94 A4.5 4.5 0 0 0 184.3 259.94" fill="none" stroke="#000" stroke-width="1.3"/>
<rect x="183.6" y="253.84" width="7.1" height="3.2" fill="#000" rx="0.8"/>
<text x="177.6" y="252.84" font-size="7.4" fill="#000" textLength="3.6" lengthAdjust="spacingAndGlyphs" text-anchor="middle" style="font-family:'Liberation Sans'" transform="rotate(-90 177.6 252.84)">B</text>
<path d="M184.3 261.76 A4.5 4.5 0 0 0 184.3 270.76" fill="none" stroke="#000" stroke-width="1.3"/>
<rect x="183.6" y="264.66" width="7.1" height="3.2" fill="#000" rx="0.8"/>
<text x="177.6" y="263.66" font-size="7.4" fill="#000" textLength="3.6" lengthAdjust="spacingAndGlyphs" text-anchor="middle" style="font-family:'Liberation Sans'" transform="rotate(-90 177.6 263.66)">A</text>
<path d="M184.3 272.58 A4.5 4.5 0 0 0 184.3 281.58" fill="none" stroke="#000" stroke-width="1.3"/>
<rect x="183.6" y="275.48" width="7.1" height="3.2" fill="#000" rx="0.8"/>
<path d="M184.3 283.4 A4.5 4.5 0 0 0 184.3 292.4" fill="none" stroke="#000" stroke-width="1.3"/>
<rect x="183.6" y="286.3" width="7.1" height="3.2" fill="#000" rx="0.8"/>
<line x1="93" y1="255.44" x2="179.8" y2="255.44" stroke="#000" stroke-width="1.25"/>
<rect x="109.2" y="263.16" width="16" height="6.2" fill="none" stroke="#000" stroke-width="1"/>
<text x="99.8" y="264.36" font-size="8.6" fill="#000" textLength="7.3" lengthAdjust="spacingAndGlyphs" style="font-family:'Liberation Sans'">SA</text>
<line x1="93" y1="266.26" x2="179.8" y2="266.26" stroke="#000" stroke-width="1.25"/>
<line x1="93" y1="277.08" x2="179.8" y2="277.08" stroke="#000" stroke-width="1.25"/>
<line x1="93" y1="287.9" x2="179.8" y2="287.9" stroke="#000" stroke-width="1.25"/>
<polyline points="190.7,244.62 298.6,244.62 298.6,249.8" fill="none" stroke="#000" stroke-width="1.25" stroke-linejoin="miter"/>
<polyline points="190.7,255.44 290.8,255.44 313,270.2" fill="none" stroke="#000" stroke-width="1.25" stroke-linejoin="miter"/>
<polyline points="190.7,266.26 249.7,266.26 249.7,277.08 298.6,277.08 298.6,271.6" fill="none" stroke="#000" stroke-width="1.25" stroke-linejoin="miter"/>
<polyline points="190.7,277.08 244.3,277.08 244.3,287.9 277,287.9 277,293.6" fill="none" stroke="#000" stroke-width="1.25" stroke-linejoin="miter"/>
<polyline points="190.7,287.9 239.3,287.9 239.3,309.54 277,309.54 277,302" fill="none" stroke="#000" stroke-width="1.25" stroke-linejoin="miter"/>
<line x1="260.5" y1="239.4" x2="285.2" y2="239.4" stroke="#444" stroke-width="1" stroke-dasharray="21.7 4.2 4.2 4.2" stroke-dashoffset="6.7"/>
<line x1="285.2" y1="239.4" x2="325.3" y2="239.4" stroke="#444" stroke-width="1"/>
<line x1="260.5" y1="239.4" x2="260.5" y2="320.2" stroke="#444" stroke-width="1" stroke-dasharray="21.7 4.2 4.2 4.2" stroke-dashoffset="14.5"/>
<line x1="325.3" y1="239.4" x2="325.3" y2="320.2" stroke="#444" stroke-width="1" stroke-dasharray="21.7 4.2 4.2 4.2" stroke-dashoffset="3.7"/>
<line x1="260.5" y1="320.2" x2="325.3" y2="320.2" stroke="#444" stroke-width="1" stroke-dasharray="21.7 4.2 4.2 4.2" stroke-dashoffset="25.9"/>
<text x="293.5" y="238.8" font-size="11" fill="#000" textLength="30.6" lengthAdjust="spacingAndGlyphs" style="font-family:'Liberation Sans'">3Y39-2</text>
<rect x="295.5" y="249.8" width="6.3" height="21.8" fill="none" stroke="#000" stroke-width="1"/>
<path d="M314.3 271.3 L309.32 269.75 L310.99 267.26 Z" fill="#000" stroke="#000" stroke-width="0.4"/>
<line x1="314.4" y1="271.3" x2="314.4" y2="306" stroke="#000" stroke-width="1.1" stroke-dasharray="4 2" stroke-dashoffset="0"/>
<rect x="268.3" y="293.6" width="17.3" height="8.4" fill="none" stroke="#000" stroke-width="1"/>
<line x1="285.6" y1="297.5" x2="297" y2="297.5" stroke="#000" stroke-width="1" stroke-dasharray="5 3.6" stroke-dashoffset="0"/>
<path d="M293.6 289.3 L303.6 289.3 L293.6 306.1 L303.6 306.1 Z" fill="none" stroke="#000" stroke-width="1.3"/>
<line x1="298.8" y1="282.3" x2="298.8" y2="289" stroke="#000" stroke-width="1"/>
<line x1="298.8" y1="306.6" x2="298.8" y2="312.1" stroke="#000" stroke-width="1"/>
<line x1="283.3" y1="286.5" x2="314.7" y2="308.4" stroke="#000" stroke-width="1.1"/>
<path d="M314.7 308.4 L309.73 306.79 L311.44 304.32 Z" fill="#000" stroke="#000" stroke-width="0.4"/>
<path d="M283.3 286.5 L288.26 288.13 L286.54 290.59 Z" fill="#000" stroke="#000" stroke-width="0.4"/>
<line x1="115.4" y1="298.72" x2="115.4" y2="331.18" stroke="#222" stroke-width="0.9"/>
<line x1="117.3" y1="298.72" x2="117.3" y2="331.18" stroke="#8a8a8a" stroke-width="0.9"/>
<line x1="131.8" y1="297.72" x2="131.8" y2="332.18" stroke="#222" stroke-width="0.9"/>
<line x1="134" y1="297.72" x2="134" y2="332.18" stroke="#8a8a8a" stroke-width="0.9"/>
<path d="M130.6 294.22 A4.5 4.5 0 0 0 130.6 303.22" fill="none" stroke="#000" stroke-width="1.3"/>
<rect x="130.5" y="297.12" width="6" height="3.2" fill="#000" rx="0.8"/>
<line x1="93" y1="298.72" x2="126.1" y2="298.72" stroke="#000" stroke-width="1.25"/>
<path d="M130.6 305.04 A4.5 4.5 0 0 0 130.6 314.04" fill="none" stroke="#000" stroke-width="1.3"/>
<rect x="130.5" y="307.94" width="6" height="3.2" fill="#000" rx="0.8"/>
<line x1="93" y1="309.54" x2="126.1" y2="309.54" stroke="#000" stroke-width="1.25"/>
<path d="M130.6 315.86 A4.5 4.5 0 0 0 130.6 324.86" fill="none" stroke="#000" stroke-width="1.3"/>
<rect x="130.5" y="318.76" width="6" height="3.2" fill="#000" rx="0.8"/>
<line x1="93" y1="320.36" x2="126.1" y2="320.36" stroke="#000" stroke-width="1.25"/>
<path d="M130.6 326.68 A4.5 4.5 0 0 0 130.6 335.68" fill="none" stroke="#000" stroke-width="1.3"/>
<rect x="130.5" y="329.58" width="6" height="3.2" fill="#000" rx="0.8"/>
<line x1="93" y1="331.18" x2="126.1" y2="331.18" stroke="#000" stroke-width="1.25"/>
<polyline points="136.5,298.72 212.4,298.72 212.4,303.5" fill="none" stroke="#000" stroke-width="1.25" stroke-linejoin="miter"/>
<polyline points="136.5,331.18 212.4,331.18 212.4,326.5" fill="none" stroke="#000" stroke-width="1.25" stroke-linejoin="miter"/>
<polyline points="136.5,309.54 157.7,309.54 157.7,304.4 199.3,304.4" fill="none" stroke="#000" stroke-width="1.25" stroke-linejoin="miter"/>
<polyline points="136.5,320.36 157.7,320.36 157.7,325.9 199.3,325.9" fill="none" stroke="#000" stroke-width="1.25" stroke-linejoin="miter"/>
<path d="M199.3 304.4 A2.7 2.69 0 0 1 199.3 309.77 A2.7 2.69 0 0 1 199.3 315.15 A2.7 2.69 0 0 1 199.3 320.52 A2.7 2.69 0 0 1 199.3 325.9" fill="none" stroke="#000" stroke-width="1"/>
<line x1="196" y1="309.77" x2="199.6" y2="309.77" stroke="#000" stroke-width="1"/>
<line x1="196" y1="315.15" x2="199.6" y2="315.15" stroke="#000" stroke-width="1"/>
<line x1="196" y1="320.52" x2="199.6" y2="320.52" stroke="#000" stroke-width="1"/>
<path d="M212.4 303.5 L209.6 304.4 A2.7 2.69 0 0 0 209.6 309.77 A2.7 2.69 0 0 0 209.6 315.15 A2.7 2.69 0 0 0 209.6 320.52 A2.7 2.69 0 0 0 209.6 325.9 L212.4 326.5" fill="none" stroke="#000" stroke-width="1"/>
<line x1="209.3" y1="309.77" x2="212.4" y2="309.77" stroke="#000" stroke-width="1"/>
<line x1="209.3" y1="315.15" x2="212.4" y2="315.15" stroke="#000" stroke-width="1"/>
<line x1="209.3" y1="320.52" x2="212.4" y2="320.52" stroke="#000" stroke-width="1"/>
<text x="160.5" y="320.8" font-size="11" fill="#000" textLength="35.6" lengthAdjust="spacingAndGlyphs" style="font-family:'Liberation Sans'">3B59a-2</text>
<text x="217.6" y="320.8" font-size="11" fill="#000" textLength="30.4" lengthAdjust="spacingAndGlyphs" style="font-family:'Liberation Sans'">3B59-2</text>
<polyline points="93,342 136.2,342 136.2,347.5" fill="none" stroke="#000" stroke-width="1.25" stroke-linejoin="miter"/>
<rect x="127.1" y="347.5" width="17.7" height="8.9" fill="none" stroke="#000" stroke-width="1"/>
<line x1="136.2" y1="356.4" x2="136.2" y2="374.5" stroke="#000" stroke-width="1.25"/>
<line x1="26" y1="374.5" x2="29.9" y2="374.5" stroke="#8a8a8a" stroke-width="1.2"/>
<line x1="35" y1="374.5" x2="854.7" y2="374.5" stroke="#000" stroke-width="1.25"/>
<circle cx="136.2" cy="374.5" r="2.1" fill="#000"/>
<circle cx="385.3" cy="374.5" r="2.1" fill="#000"/>
<circle cx="472" cy="374.5" r="2.1" fill="#000"/>
<line x1="537.1" y1="33.5" x2="537.1" y2="72.3" stroke="#000" stroke-width="1.25"/>
<line x1="533.3" y1="72.1" x2="537.4" y2="86.3" stroke="#000" stroke-width="1.25"/>
<line x1="537.1" y1="86.3" x2="537.1" y2="128.7" stroke="#000" stroke-width="1.25"/>
<path d="M524.3 78.6 L534.3 76.1" fill="none" stroke="#000" stroke-width="1.2"/>
<path d="M524.0 78.9 L527.5 76.6 L528.0 78.2 Z" fill="#000" stroke="#000" stroke-width="0.5"/>
<text x="502.7" y="72.6" font-size="11" fill="#000" textLength="25" lengthAdjust="spacingAndGlyphs" style="font-family:'Liberation Sans'">F61-2</text>
<text x="513.7" y="87.7" font-size="7.8" fill="#000" textLength="14.3" lengthAdjust="spacingAndGlyphs" style="font-family:'Liberation Sans'">08.2</text>
<text x="545.5" y="86.4" font-size="8.8" fill="#000" textLength="9.3" lengthAdjust="spacingAndGlyphs" style="font-family:'Liberation Sans'" transform="rotate(-90 545.5 86.4)">10A</text>
<text x="523" y="129.3" font-size="7.8" fill="#000" textLength="10.9" lengthAdjust="spacingAndGlyphs" font-weight="bold" style="font-family:'Liberation Sans'">X2N</text>
<circle cx="537.1" cy="130.7" r="2.1" fill="#fff" stroke="#000" stroke-width="1.15"/>
<text x="540.6" y="129.3" font-size="7.8" fill="#000" textLength="17.7" lengthAdjust="spacingAndGlyphs" style="font-family:'Liberation Sans'">15-16</text>
<line x1="537.1" y1="132.7" x2="537.1" y2="185.5" stroke="#000" stroke-width="1.25"/>
<circle cx="537.1" cy="158.06" r="2.1" fill="#000"/>
<line x1="533.6" y1="186" x2="537.1" y2="199.3" stroke="#000" stroke-width="1.25"/>
<line x1="537.1" y1="199.3" x2="537.1" y2="228.2" stroke="#000" stroke-width="1.25"/>
<text x="503.8" y="180.8" font-size="11" fill="#000" textLength="25.4" lengthAdjust="spacingAndGlyphs" style="font-family:'Liberation Sans'">S57-2</text>
<text x="508.5" y="197.8" font-size="13" fill="#000" textLength="5.8" lengthAdjust="spacingAndGlyphs" style="font-family:'Liberation Sans'">E</text>
<line x1="515.9" y1="192.3" x2="533.2" y2="192.3" stroke="#000" stroke-width="1" stroke-dasharray="3 1.7"/>
<text x="540.8" y="187.9" font-size="7.2" fill="#000" textLength="2.2" lengthAdjust="spacingAndGlyphs" style="font-family:'Liberation Sans'">1</text>
<text x="539.5" y="204.4" font-size="7.2" fill="#000" textLength="6.5" lengthAdjust="spacingAndGlyphs" style="font-family:'Liberation Sans'">1b</text>
<line x1="472" y1="228.2" x2="592" y2="228.2" stroke="#000" stroke-width="1.25"/>
<circle cx="472" cy="228.2" r="2.1" fill="#000"/>
<circle cx="537.1" cy="228.2" r="2.1" fill="#000"/>
<line x1="472" y1="228.2" x2="472" y2="242.4" stroke="#000" stroke-width="1.25"/>
<circle cx="472" cy="244.4" r="2.1" fill="#fff" stroke="#000" stroke-width="1.15"/>
<line x1="455.6" y1="244.4" x2="469.9" y2="244.4" stroke="#444" stroke-width="1"/>
<line x1="473.9" y1="244.4" x2="488.4" y2="244.4" stroke="#444" stroke-width="1"/>
<line x1="455.6" y1="244.4" x2="455.6" y2="341.9" stroke="#555" stroke-width="1" stroke-dasharray="22.5 3.3 3.3 3.3" stroke-dashoffset="10.9"/>
<line x1="488.4" y1="244.4" x2="488.4" y2="341.9" stroke="#555" stroke-width="1" stroke-dasharray="22.5 3.3 3.3 3.3" stroke-dashoffset="10.9"/>
<line x1="455.6" y1="341.9" x2="469.9" y2="341.9" stroke="#444" stroke-width="1"/>
<line x1="473.9" y1="341.9" x2="488.4" y2="341.9" stroke="#444" stroke-width="1"/>
<circle cx="472" cy="341.9" r="2.1" fill="#fff" stroke="#000" stroke-width="1.15"/>
<line x1="472" y1="246.4" x2="472" y2="298.5" stroke="#000" stroke-width="1.25"/>
<line x1="472" y1="315" x2="472" y2="339.9" stroke="#000" stroke-width="1.25"/>
<line x1="472" y1="343.9" x2="472" y2="374.5" stroke="#000" stroke-width="1.25"/>
<path d="M467.8 265.1 L476.5 265.1 L472.05 271.9 Z" fill="none" stroke="#000" stroke-width="1"/>
<line x1="467.8" y1="272.3" x2="476.5" y2="272.3" stroke="#000" stroke-width="1.1"/>
<line x1="466.8" y1="266" x2="459.4" y2="273.4" stroke="#000" stroke-width="1"/>
<path d="M459 273.8 L461.19 269.77 L463.03 271.61 Z" fill="#000" stroke="#000" stroke-width="0.4"/>
<line x1="469" y1="268.6" x2="461.6" y2="276" stroke="#000" stroke-width="1"/>
<path d="M461.2 276.4 L463.39 272.37 L465.23 274.21 Z" fill="#000" stroke="#000" stroke-width="0.4"/>
<text x="426.9" y="275.6" font-size="11" fill="#000" textLength="25.2" lengthAdjust="spacingAndGlyphs" style="font-family:'Liberation Sans'">H97-2</text>
<text x="479.1" y="280.1" font-size="7.6" fill="#000" textLength="6.9" lengthAdjust="spacingAndGlyphs" style="font-family:'Liberation Mono'">rt</text>
<rect x="468.4" y="298.5" width="7" height="16.5" fill="none" stroke="#000" stroke-width="1"/>
<line x1="13.4" y1="428.6" x2="876.2" y2="428.6" stroke="#111" stroke-width="1.1"/>
<line x1="13.4" y1="444.6" x2="876.2" y2="444.6" stroke="#111" stroke-width="1.1"/>
<line x1="13.4" y1="493.5" x2="876.2" y2="493.5" stroke="#111" stroke-width="1.1"/>
<line x1="13.4" y1="509.6" x2="876.2" y2="509.6" stroke="#111" stroke-width="1.1"/>
<line x1="13.4" y1="559.5" x2="876.2" y2="559.5" stroke="#111" stroke-width="1.1"/>
<line x1="87.4" y1="444.6" x2="87.4" y2="493.5" stroke="#111" stroke-width="1.1"/>
<line x1="87.4" y1="509.6" x2="87.4" y2="559.5" stroke="#111" stroke-width="1.1"/>
<line x1="168.6" y1="444.6" x2="168.6" y2="493.5" stroke="#111" stroke-width="1.1"/>
<line x1="168.6" y1="509.6" x2="168.6" y2="559.5" stroke="#111" stroke-width="1.1"/>
<line x1="228.4" y1="444.6" x2="228.4" y2="493.5" stroke="#111" stroke-width="1.1"/>
<line x1="228.4" y1="509.6" x2="228.4" y2="559.5" stroke="#111" stroke-width="1.1"/>
<line x1="336.3" y1="444.6" x2="336.3" y2="493.5" stroke="#111" stroke-width="1.1"/>
<line x1="336.3" y1="509.6" x2="336.3" y2="559.5" stroke="#111" stroke-width="1.1"/>
<line x1="575" y1="444.6" x2="575" y2="493.5" stroke="#111" stroke-width="1.1"/>
<line x1="575" y1="509.6" x2="575" y2="559.5" stroke="#111" stroke-width="1.1"/>
<text x="158.8" y="438.9" font-size="12.2" fill="#000" textLength="137.5" lengthAdjust="spacingAndGlyphs" style="font-family:'Liberation Mono'">Motor #2:Motorregler CENTRY</text>
<text x="45.9" y="454.7" font-size="12.2" fill="#000" textLength="30.3" lengthAdjust="spacingAndGlyphs" style="font-family:'Liberation Mono'">Regler</text>
<text x="105.7" y="454.7" font-size="12.2" fill="#000" textLength="35.35" lengthAdjust="spacingAndGlyphs" style="font-family:'Liberation Mono'">elektr.</text>
<text x="105.7" y="470.8" font-size="12.2" fill="#000" textLength="45.45" lengthAdjust="spacingAndGlyphs" style="font-family:'Liberation Mono'">Rauchgas-</text>
<text x="105.7" y="486.6" font-size="12.2" fill="#000" textLength="45.45" lengthAdjust="spacingAndGlyphs" style="font-family:'Liberation Mono'">begrenzer</text>
<text x="170.9" y="454.7" font-size="12.2" fill="#000" textLength="45.45" lengthAdjust="spacingAndGlyphs" style="font-family:'Liberation Mono'">Drehzahl-</text>
<text x="170.9" y="470.8" font-size="12.2" fill="#000" textLength="30.3" lengthAdjust="spacingAndGlyphs" style="font-family:'Liberation Mono'">sensor</text>
<text x="235.5" y="454.7" font-size="12.2" fill="#000" textLength="55.55" lengthAdjust="spacingAndGlyphs" style="font-family:'Liberation Mono'">Kraftstoff-</text>
<text x="235.5" y="470.8" font-size="12.2" fill="#000" textLength="55.55" lengthAdjust="spacingAndGlyphs" style="font-family:'Liberation Mono'">regelventil</text>
<text x="419.6" y="454.5" font-size="12.2" fill="#000" textLength="56.7" lengthAdjust="spacingAndGlyphs" style="font-family:'Liberation Mono'">Warnung und</text>
<text x="419.6" y="470.8" font-size="12.2" fill="#000" textLength="40.7" lengthAdjust="spacingAndGlyphs" style="font-family:'Liberation Mono'">Diagnose</text>
<text x="343.6" y="480.7" font-size="7.6" fill="#000" textLength="43.7" lengthAdjust="spacingAndGlyphs" style="font-family:'Liberation Mono'">Testdrehzahl</text>
<text x="419.6" y="480.7" font-size="7.6" fill="#000" textLength="138.8" lengthAdjust="spacingAndGlyphs" style="font-family:'Liberation Mono'">S57-2: Taster löst Diagnoseausgabe aus</text>
<text x="343.6" y="490.7" font-size="7.6" fill="#000" textLength="79.9" lengthAdjust="spacingAndGlyphs" style="font-family:'Liberation Mono'">Klemme X2N.19 =&gt; Masse</text>
<text x="164" y="504" font-size="12.2" fill="#000" textLength="179" lengthAdjust="spacingAndGlyphs" style="font-family:'Liberation Mono'">engine #2:rpm control system CENTRY</text>
<text x="35.2" y="519.5" font-size="12.2" fill="#000" textLength="50.7" lengthAdjust="spacingAndGlyphs" style="font-family:'Liberation Mono'">controller</text>
<text x="105.5" y="519.5" font-size="12.2" fill="#000" textLength="56.6" lengthAdjust="spacingAndGlyphs" style="font-family:'Liberation Mono'">step timing</text>
<text x="105.5" y="535.4" font-size="12.2" fill="#000" textLength="35.35" lengthAdjust="spacingAndGlyphs" style="font-family:'Liberation Mono'">control</text>
<text x="170.4" y="519.5" font-size="12.2" fill="#000" textLength="50.7" lengthAdjust="spacingAndGlyphs" style="font-family:'Liberation Mono'">rpm sensor</text>
<text x="235.5" y="519.5" font-size="12.2" fill="#000" textLength="60.6" lengthAdjust="spacingAndGlyphs" style="font-family:'Liberation Mono'">fuel control</text>
<text x="235.5" y="535.4" font-size="12.2" fill="#000" textLength="40.4" lengthAdjust="spacingAndGlyphs" style="font-family:'Liberation Mono'">actuator</text>
<text x="419.6" y="519" font-size="12.2" fill="#000" textLength="56.7" lengthAdjust="spacingAndGlyphs" style="font-family:'Liberation Mono'">warning and</text>
<text x="419.6" y="535" font-size="12.2" fill="#000" textLength="50.7" lengthAdjust="spacingAndGlyphs" style="font-family:'Liberation Mono'">diagnostic</text>
<text x="343.6" y="545.6" font-size="7.6" fill="#000" textLength="40.7" lengthAdjust="spacingAndGlyphs" style="font-family:'Liberation Mono'">testing rpm</text>
<text x="419.6" y="545.6" font-size="7.6" fill="#000" textLength="145.1" lengthAdjust="spacingAndGlyphs" style="font-family:'Liberation Mono'">S57-2: switch actuates diagnostic output</text>
<text x="343.6" y="556.1" font-size="7.6" fill="#000" textLength="79.9" lengthAdjust="spacingAndGlyphs" style="font-family:'Liberation Mono'">terminal X2N.19 =&gt; GND</text>
<line x1="13.4" y1="559.5" x2="887" y2="559.5" stroke="#111" stroke-width="1.1"/>
<line x1="52.5" y1="566" x2="52.5" y2="626.3" stroke="#111" stroke-width="1"/>
<line x1="91.5" y1="566" x2="91.5" y2="596.3" stroke="#111" stroke-width="1"/>
<line x1="91.5" y1="616" x2="91.5" y2="626.3" stroke="#111" stroke-width="1"/>
<line x1="121.1" y1="616" x2="121.1" y2="626.3" stroke="#111" stroke-width="1"/>
<line x1="169.5" y1="559.5" x2="169.5" y2="616" stroke="#111" stroke-width="1"/>
<line x1="197.6" y1="570.3" x2="197.6" y2="616" stroke="#555" stroke-width="1"/>
<line x1="239.5" y1="570.3" x2="239.5" y2="616" stroke="#555" stroke-width="1"/>
<line x1="254.3" y1="559.5" x2="254.3" y2="616" stroke="#111" stroke-width="1.3"/>
<line x1="229.5" y1="616" x2="229.5" y2="626.3" stroke="#111" stroke-width="1"/>
<line x1="13.4" y1="576.9" x2="254.3" y2="576.9" stroke="#111" stroke-width="1"/>
<line x1="13.4" y1="586.6" x2="254.3" y2="586.6" stroke="#111" stroke-width="1"/>
<line x1="13.4" y1="596.4" x2="254.3" y2="596.4" stroke="#111" stroke-width="1"/>
<line x1="13.4" y1="606.4" x2="254.3" y2="606.4" stroke="#111" stroke-width="1"/>
<line x1="13.4" y1="577.6" x2="254.3" y2="577.6" stroke="#999" stroke-width="0.8"/>
<text x="62.1" y="574.2" font-size="7.4" fill="#000" textLength="17.7" lengthAdjust="spacingAndGlyphs" style="font-family:'Liberation Mono'">Datum</text>
<text x="119.9" y="574.2" font-size="7.4" fill="#000" textLength="14.7" lengthAdjust="spacingAndGlyphs" style="font-family:'Liberation Mono'">Name</text>
<text x="181.2" y="566.8" font-size="7" fill="#000" textLength="62.7" lengthAdjust="spacingAndGlyphs" style="font-family:'Liberation Mono'">Wiederholverwendung</text>
<text x="179.4" y="574.4" font-size="7.4" fill="#000" textLength="9.5" lengthAdjust="spacingAndGlyphs" style="font-family:'Liberation Mono'">Typ</text>
<text x="204.5" y="574.4" font-size="7.4" fill="#000" textLength="28.8" lengthAdjust="spacingAndGlyphs" style="font-family:'Liberation Mono'">Ident-Nr.</text>
<text x="245.5" y="574.4" font-size="7.4" fill="#000" textLength="3" lengthAdjust="spacingAndGlyphs" style="font-family:'Liberation Mono'">F</text>
<text x="17" y="584.8" font-size="7.6" fill="#000" textLength="19.6" lengthAdjust="spacingAndGlyphs" style="font-family:'Liberation Mono'">Bearb.</text>
<text x="17" y="594.7" font-size="7.6" fill="#000" textLength="16" lengthAdjust="spacingAndGlyphs" style="font-family:'Liberation Mono'">Gepr.</text>
<text x="17" y="604.4" font-size="7.6" fill="#000" textLength="16.5" lengthAdjust="spacingAndGlyphs" style="font-family:'Liberation Mono'">Abt.:</text>
<text x="17" y="614.2" font-size="7.6" fill="#000" textLength="13.5" lengthAdjust="spacingAndGlyphs" style="font-family:'Liberation Mono'">Norm</text>
<text x="17.5" y="624.3" font-size="7.6" fill="#000" textLength="9.5" lengthAdjust="spacingAndGlyphs" style="font-family:'Liberation Mono'">SIA</text>
<text x="53.8" y="584.8" font-size="9.4" fill="#000" textLength="36.4" lengthAdjust="spacingAndGlyphs" style="font-family:'Liberation Sans'">01-APR-05</text>
<text x="118.7" y="584.9" font-size="9.4" fill="#000" textLength="15.9" lengthAdjust="spacingAndGlyphs" style="font-family:'Liberation Sans'">Baer</text>
<text x="88" y="604.8" font-size="9.2" fill="#000" textLength="17.1" lengthAdjust="spacingAndGlyphs" style="font-family:'Liberation Sans'">8125</text>
<text x="72" y="594.5" font-size="8" fill="#000" text-anchor="middle" style="font-family:'Liberation Sans'">.</text>
<text x="126.5" y="594.5" font-size="8" fill="#000" text-anchor="middle" style="font-family:'Liberation Sans'">.</text>
<text x="96.5" y="614" font-size="8" fill="#000" text-anchor="middle" style="font-family:'Liberation Sans'">.</text>
<text x="106.4" y="624.5" font-size="8" fill="#000" text-anchor="middle" style="font-family:'Liberation Sans'">.</text>
<text x="182.4" y="584.6" font-size="8" fill="#000" text-anchor="middle" style="font-family:'Liberation Sans'">.</text>
<text x="218" y="584.6" font-size="8" fill="#000" text-anchor="middle" style="font-family:'Liberation Sans'">.</text>
<text x="246.6" y="584.6" font-size="8" fill="#000" text-anchor="middle" style="font-family:'Liberation Sans'">.</text>
<text x="182.4" y="594.5" font-size="8" fill="#000" text-anchor="middle" style="font-family:'Liberation Sans'">.</text>
<text x="218" y="594.5" font-size="8" fill="#000" text-anchor="middle" style="font-family:'Liberation Sans'">.</text>
<text x="246.6" y="594.5" font-size="8" fill="#000" text-anchor="middle" style="font-family:'Liberation Sans'">.</text>
<text x="182.4" y="604.3" font-size="8" fill="#000" text-anchor="middle" style="font-family:'Liberation Sans'">.</text>
<text x="218" y="604.3" font-size="8" fill="#000" text-anchor="middle" style="font-family:'Liberation Sans'">.</text>
<text x="246.6" y="604.3" font-size="8" fill="#000" text-anchor="middle" style="font-family:'Liberation Sans'">.</text>
<text x="182.4" y="614" font-size="8" fill="#000" text-anchor="middle" style="font-family:'Liberation Sans'">.</text>
<text x="218" y="614" font-size="8" fill="#000" text-anchor="middle" style="font-family:'Liberation Sans'">.</text>
<text x="246.6" y="614" font-size="8" fill="#000" text-anchor="middle" style="font-family:'Liberation Sans'">.</text>
<text x="62.1" y="624.3" font-size="7.4" fill="#000" textLength="18.5" lengthAdjust="spacingAndGlyphs" style="font-family:'Liberation Mono'">Datum</text>
<text x="175.3" y="624.3" font-size="7.4" fill="#000" textLength="3.3" lengthAdjust="spacingAndGlyphs" style="font-family:'Liberation Mono'">7</text>
<line x1="336" y1="559.5" x2="336" y2="576.5" stroke="#111" stroke-width="1"/>
<line x1="254.3" y1="576.5" x2="468.6" y2="576.5" stroke="#111" stroke-width="1"/>
<line x1="254.3" y1="606.5" x2="468.6" y2="606.5" stroke="#111" stroke-width="1"/>
<line x1="468.6" y1="559.5" x2="468.6" y2="626.3" stroke="#111" stroke-width="1.3"/>
<line x1="13.4" y1="616" x2="468.6" y2="616" stroke="#111" stroke-width="1"/>
<text x="256.6" y="569.7" font-size="7" fill="#000" textLength="75.9" lengthAdjust="spacingAndGlyphs" style="font-family:'Liberation Mono'">Vordruck f. Schaltpläne</text>
<text x="341.4" y="569.7" font-size="7" fill="#000" textLength="120.6" lengthAdjust="spacingAndGlyphs" style="font-family:'Liberation Mono'">Computererstellte Zeichnung (CAD)</text>
<text x="314.6" y="596.6" font-size="16.5" fill="#000" textLength="80.4" lengthAdjust="spacingAndGlyphs" style="font-family:'Liberation Mono'">Elektroplan</text>
<text x="273.5" y="612.7" font-size="7" fill="#000" textLength="182.4" lengthAdjust="spacingAndGlyphs" style="font-family:'Liberation Mono'">Copyright reserved (Schutzvermerk DIN 34 beachten)</text>
<line x1="337.3" y1="616" x2="337.3" y2="626.3" stroke="#111" stroke-width="1"/>
<line x1="445.1" y1="616" x2="445.1" y2="626.3" stroke="#111" stroke-width="1"/>
<text x="282.4" y="624.3" font-size="7.4" fill="#000" textLength="3.3" lengthAdjust="spacingAndGlyphs" style="font-family:'Liberation Mono'">6</text>
<text x="391.5" y="624.3" font-size="7.4" fill="#000" textLength="3.3" lengthAdjust="spacingAndGlyphs" style="font-family:'Liberation Mono'">5</text>
<text x="474.7" y="568.4" font-size="7" fill="#000" textLength="26" lengthAdjust="spacingAndGlyphs" style="font-family:'Liberation Mono'">Bau Nr.:</text>
<text x="531.1" y="576.5" font-size="16.6" fill="#000" textLength="35.6" lengthAdjust="spacingAndGlyphs" style="font-family:'Liberation Sans'">15025</text>
<line x1="468.6" y1="581" x2="624.4" y2="581" stroke="#111" stroke-width="1"/>
<line x1="624.4" y1="559.5" x2="624.4" y2="581" stroke="#111" stroke-width="1.3"/>
<line x1="624.4" y1="581" x2="624.4" y2="613.2" stroke="#111" stroke-width="1.7"/>
<line x1="624.4" y1="581" x2="804.6" y2="581" stroke="#111" stroke-width="1.7"/>
<line x1="624.4" y1="613.2" x2="804.6" y2="613.2" stroke="#111" stroke-width="1.7"/>
<line x1="468.6" y1="613.2" x2="887" y2="613.2" stroke="#111" stroke-width="1"/>
<text x="503.2" y="597.9" font-size="16" font-weight="bold" textLength="10" lengthAdjust="spacingAndGlyphs" fill="#000" stroke="#000" stroke-width="2.2" stroke-linejoin="round" style="font-family:'Liberation Sans'">K</text>
<text x="515.7" y="597.9" font-size="16" font-weight="bold" textLength="10.6" lengthAdjust="spacingAndGlyphs" fill="#000" stroke="#000" stroke-width="2.2" stroke-linejoin="round" style="font-family:'Liberation Sans'">O</text>
<text x="529.2" y="597.9" font-size="16" font-weight="bold" textLength="12" lengthAdjust="spacingAndGlyphs" fill="#000" stroke="#000" stroke-width="2.2" stroke-linejoin="round" style="font-family:'Liberation Sans'">M</text>
<text x="543.4" y="597.9" font-size="16" font-weight="bold" textLength="10.7" lengthAdjust="spacingAndGlyphs" fill="#000" stroke="#000" stroke-width="2.2" stroke-linejoin="round" style="font-family:'Liberation Sans'">A</text>
<text x="556.3" y="597.9" font-size="16" font-weight="bold" textLength="10.4" lengthAdjust="spacingAndGlyphs" fill="#000" stroke="#000" stroke-width="2.2" stroke-linejoin="round" style="font-family:'Liberation Sans'">T</text>
<text x="569.1" y="597.9" font-size="16" font-weight="bold" textLength="9.4" lengthAdjust="spacingAndGlyphs" fill="#000" stroke="#000" stroke-width="2.2" stroke-linejoin="round" style="font-family:'Liberation Sans'">S</text>
<text x="581.6" y="597.9" font-size="16" font-weight="bold" textLength="8.6" lengthAdjust="spacingAndGlyphs" fill="#000" stroke="#000" stroke-width="2.2" stroke-linejoin="round" style="font-family:'Liberation Sans'">U</text>
<rect x="564.8" y="582.9" width="4.2" height="2.7" fill="#000" rx="0"/>
<text x="502.6" y="610.1" font-size="8.6" font-weight="bold" textLength="5.4" lengthAdjust="spacingAndGlyphs" fill="#000" stroke="#000" stroke-width="1" stroke-linejoin="round" style="font-family:'Liberation Sans'">M</text>
<text x="510.9" y="610.1" font-size="8.6" font-weight="bold" textLength="1.1" lengthAdjust="spacingAndGlyphs" fill="#000" stroke="#000" stroke-width="1" stroke-linejoin="round" style="font-family:'Liberation Sans'">I</text>
<text x="514.8" y="610.1" font-size="8.6" font-weight="bold" textLength="4.7" lengthAdjust="spacingAndGlyphs" fill="#000" stroke="#000" stroke-width="1" stroke-linejoin="round" style="font-family:'Liberation Sans'">N</text>
<text x="522.6" y="610.1" font-size="8.6" font-weight="bold" textLength="1.1" lengthAdjust="spacingAndGlyphs" fill="#000" stroke="#000" stroke-width="1" stroke-linejoin="round" style="font-family:'Liberation Sans'">I</text>
<text x="526.5" y="610.1" font-size="8.6" font-weight="bold" textLength="4.6" lengthAdjust="spacingAndGlyphs" fill="#000" stroke="#000" stroke-width="1" stroke-linejoin="round" style="font-family:'Liberation Sans'">N</text>
<text x="533.9" y="610.1" font-size="8.6" font-weight="bold" textLength="4.7" lengthAdjust="spacingAndGlyphs" fill="#000" stroke="#000" stroke-width="1" stroke-linejoin="round" style="font-family:'Liberation Sans'">G</text>
<text x="544" y="610.1" font-size="8.6" font-weight="bold" textLength="4.9" lengthAdjust="spacingAndGlyphs" fill="#000" stroke="#000" stroke-width="1" stroke-linejoin="round" style="font-family:'Liberation Sans'">G</text>
<text x="551.5" y="610.1" font-size="8.6" font-weight="bold" textLength="3.7" lengthAdjust="spacingAndGlyphs" fill="#000" stroke="#000" stroke-width="1" stroke-linejoin="round" style="font-family:'Liberation Sans'">E</text>
<text x="557.8" y="610.1" font-size="8.6" font-weight="bold" textLength="4.3" lengthAdjust="spacingAndGlyphs" fill="#000" stroke="#000" stroke-width="1" stroke-linejoin="round" style="font-family:'Liberation Sans'">R</text>
<text x="564.7" y="610.1" font-size="8.6" font-weight="bold" textLength="5.4" lengthAdjust="spacingAndGlyphs" fill="#000" stroke="#000" stroke-width="1" stroke-linejoin="round" style="font-family:'Liberation Sans'">M</text>
<text x="572.7" y="610.1" font-size="8.6" font-weight="bold" textLength="4.8" lengthAdjust="spacingAndGlyphs" fill="#000" stroke="#000" stroke-width="1" stroke-linejoin="round" style="font-family:'Liberation Sans'">A</text>
<text x="580.3" y="610.1" font-size="8.6" font-weight="bold" textLength="4.7" lengthAdjust="spacingAndGlyphs" fill="#000" stroke="#000" stroke-width="1" stroke-linejoin="round" style="font-family:'Liberation Sans'">N</text>
<text x="587" y="610.1" font-size="8.6" font-weight="bold" textLength="3.8" lengthAdjust="spacingAndGlyphs" fill="#000" stroke="#000" stroke-width="1" stroke-linejoin="round" style="font-family:'Liberation Sans'">Y</text>
<line x1="576.1" y1="613.2" x2="576.1" y2="626.3" stroke="#111" stroke-width="1"/>
<line x1="681.2" y1="613.2" x2="681.2" y2="626.3" stroke="#111" stroke-width="1"/>
<line x1="794.4" y1="613.2" x2="794.4" y2="626.3" stroke="#111" stroke-width="1"/>
<text x="472.9" y="622.6" font-size="7.4" fill="#000" textLength="64" lengthAdjust="spacingAndGlyphs" style="font-family:'Liberation Mono'">Entstanden aus:  .</text>
<text x="592.7" y="622.6" font-size="7.4" fill="#000" textLength="54" lengthAdjust="spacingAndGlyphs" style="font-family:'Liberation Mono'">Ersatz für:  .</text>
<text x="692" y="622.6" font-size="7.4" fill="#000" textLength="59" lengthAdjust="spacingAndGlyphs" style="font-family:'Liberation Mono'">Ersetzt durch:  .</text>
<text x="628.4" y="567.9" font-size="7" fill="#000" textLength="51" lengthAdjust="spacingAndGlyphs" style="font-family:'Liberation Mono'">Erstverwendung</text>
<line x1="683.2" y1="564.4" x2="683.2" y2="581" stroke="#111" stroke-width="1"/>
<line x1="683.9" y1="569.7" x2="887" y2="569.7" stroke="#111" stroke-width="1"/>
<line x1="728.7" y1="564.4" x2="728.7" y2="581" stroke="#111" stroke-width="1"/>
<line x1="773" y1="564.4" x2="773" y2="581" stroke="#111" stroke-width="1"/>
<line x1="784.4" y1="559.5" x2="784.4" y2="581" stroke="#111" stroke-width="1.3"/>
<line x1="807.3" y1="564.4" x2="807.3" y2="581" stroke="#111" stroke-width="1"/>
<line x1="862.3" y1="564.4" x2="862.3" y2="569.7" stroke="#111" stroke-width="1"/>
<line x1="624.4" y1="581" x2="887" y2="581" stroke="#111" stroke-width="1"/>
<text x="699.2" y="567.1" font-size="7" fill="#000" textLength="12.1" lengthAdjust="spacingAndGlyphs" style="font-family:'Liberation Mono'">Typ</text>
<text x="735.4" y="567.1" font-size="7" fill="#000" textLength="31.7" lengthAdjust="spacingAndGlyphs" style="font-family:'Liberation Mono'">Ident-Nr.</text>
<text x="775.7" y="567.1" font-size="7" fill="#000" textLength="3" lengthAdjust="spacingAndGlyphs" style="font-family:'Liberation Mono'">F</text>
<text x="786.4" y="567.1" font-size="6.6" fill="#000" textLength="21.5" lengthAdjust="spacingAndGlyphs" style="font-family:'Liberation Mono'">ÄM-Nr.:</text>
<text x="828.8" y="567.1" font-size="7" fill="#000" textLength="13.9" lengthAdjust="spacingAndGlyphs" style="font-family:'Liberation Mono'">Name</text>
<text x="865.5" y="567.1" font-size="7" fill="#000" textLength="19.3" lengthAdjust="spacingAndGlyphs" style="font-family:'Liberation Mono'">Datum</text>
<text x="687.3" y="579.1" font-size="10.6" fill="#000" textLength="37.7" lengthAdjust="spacingAndGlyphs" style="font-family:'Liberation Sans'">PC5500-6</text>
<text x="785.7" y="579.8" font-size="8.4" fill="#000" textLength="18.5" lengthAdjust="spacingAndGlyphs" style="font-family:'Liberation Sans'">E7206</text>
<text x="750.2" y="579" font-size="8" fill="#000" text-anchor="middle" style="font-family:'Liberation Sans'">.</text>
<text x="777" y="579" font-size="8" fill="#000" text-anchor="middle" style="font-family:'Liberation Sans'">.</text>
<text x="835.2" y="579" font-size="8" fill="#000" text-anchor="middle" style="font-family:'Liberation Sans'">.</text>
<text x="874.4" y="579" font-size="8" fill="#000" text-anchor="middle" style="font-family:'Liberation Sans'">.</text>
<text x="628.4" y="589.3" font-size="7.6" fill="#000" textLength="31" lengthAdjust="spacingAndGlyphs" style="font-family:'Liberation Mono'">Ident-Nr.:</text>
<text x="667.6" y="610.2" font-size="22.6" fill="#000" textLength="30.6" lengthAdjust="spacingAndGlyphs" stroke="#fff" stroke-width="0.45" style="font-family:'Liberation Sans'">934</text>
<text x="708.8" y="610.2" font-size="22.6" fill="#000" textLength="29.6" lengthAdjust="spacingAndGlyphs" stroke="#fff" stroke-width="0.45" style="font-family:'Liberation Sans'">425</text>
<text x="750" y="610.2" font-size="22.6" fill="#000" textLength="19.7" lengthAdjust="spacingAndGlyphs" stroke="#fff" stroke-width="0.45" style="font-family:'Liberation Sans'">40</text>
<text x="790.8" y="610.2" font-size="22.6" fill="#000" textLength="9.8" lengthAdjust="spacingAndGlyphs" stroke="#fff" stroke-width="0.45" style="font-family:'Liberation Sans'">a</text>
<line x1="804.6" y1="581" x2="804.6" y2="613.2" stroke="#111" stroke-width="1.7"/>
<line x1="833.3" y1="581" x2="833.3" y2="613.2" stroke="#111" stroke-width="1"/>
<text x="807.9" y="589.3" font-size="7" fill="#000" textLength="21.4" lengthAdjust="spacingAndGlyphs" style="font-family:'Liberation Mono'">Format</text>
<text x="836" y="589.3" font-size="7" fill="#000" textLength="47.5" lengthAdjust="spacingAndGlyphs" style="font-family:'Liberation Mono'">Blatt/Blätter</text>
<text x="809.3" y="610.2" font-size="16.8" fill="#000" textLength="14.8" lengthAdjust="spacingAndGlyphs" style="font-family:'Liberation Sans'">A3</text>
<text x="837.3" y="610.2" font-size="22.6" fill="#000" textLength="19.1" lengthAdjust="spacingAndGlyphs" stroke="#fff" stroke-width="0.45" style="font-family:'Liberation Sans'">16</text>
<line x1="863.8" y1="599.5" x2="860.4" y2="610" stroke="#000" stroke-width="0.9"/>
<rect x="873" y="607.5" width="2.2" height="2.7" fill="#000" rx="0"/>
</svg>
</body></html>
